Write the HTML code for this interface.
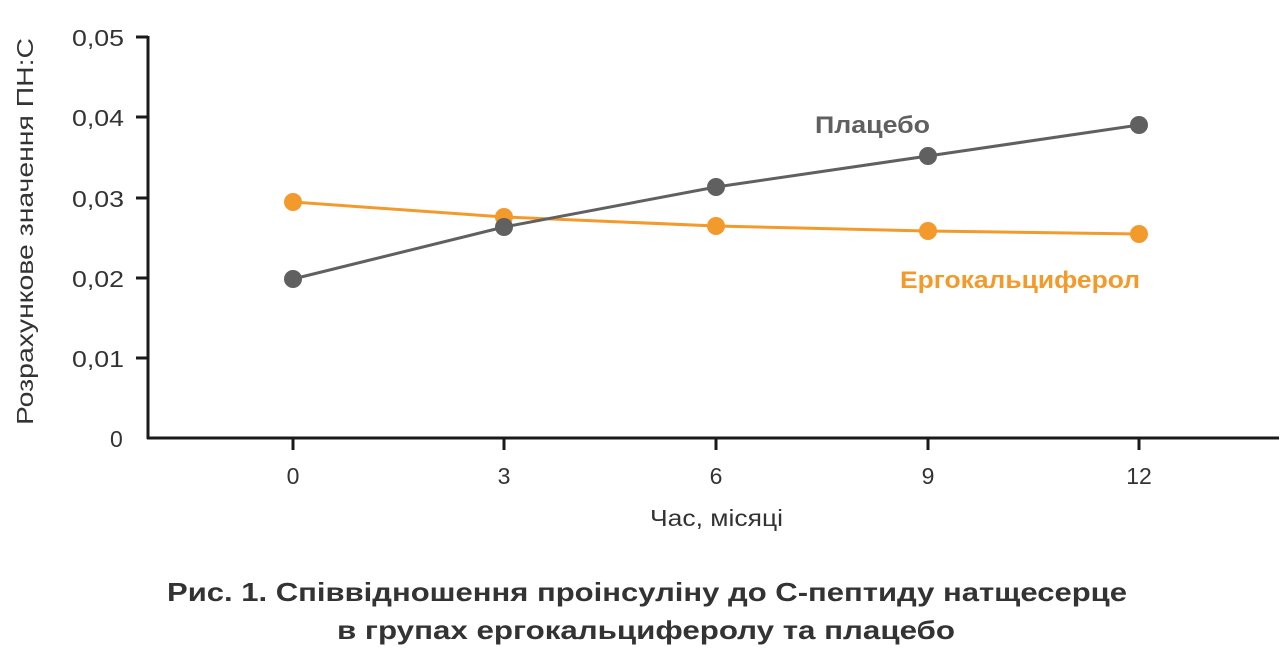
<!DOCTYPE html>
<html><head><meta charset="utf-8"><style>
html,body{margin:0;padding:0;background:#fff;}
svg{display:block;}
text{font-family:"Liberation Sans","DejaVu Sans",sans-serif;}
</style></head><body>
<svg width="1286" height="655" viewBox="0 0 1286 655" xmlns="http://www.w3.org/2000/svg">
<g stroke="#1a1a1a" stroke-width="3" fill="none">
<line x1="148" y1="36" x2="148" y2="439"/>
<line x1="147" y1="438" x2="1279" y2="438"/>
<line x1="136" y1="37" x2="148" y2="37"/>
<line x1="136" y1="117" x2="148" y2="117"/>
<line x1="136" y1="198" x2="148" y2="198"/>
<line x1="136" y1="278" x2="148" y2="278"/>
<line x1="136" y1="358" x2="148" y2="358"/>
<line x1="293" y1="438" x2="293" y2="450"/>
<line x1="504" y1="438" x2="504" y2="450"/>
<line x1="716" y1="438" x2="716" y2="450"/>
<line x1="928" y1="438" x2="928" y2="450"/>
<line x1="1139" y1="438" x2="1139" y2="450"/>
</g>
<g font-size="23" fill="#333">
<text x="72" y="46" textLength="52" lengthAdjust="spacingAndGlyphs">0,05</text>
<text x="72" y="126" textLength="52" lengthAdjust="spacingAndGlyphs">0,04</text>
<text x="72" y="207" textLength="52" lengthAdjust="spacingAndGlyphs">0,03</text>
<text x="72" y="287" textLength="52" lengthAdjust="spacingAndGlyphs">0,02</text>
<text x="72" y="367" textLength="52" lengthAdjust="spacingAndGlyphs">0,01</text>
<text x="110" y="447">0</text>
</g>
<g font-size="23" fill="#333" text-anchor="middle">
<text x="293" y="484">0</text>
<text x="504" y="484">3</text>
<text x="716" y="484">6</text>
<text x="928" y="484">9</text>
<text x="1139" y="484">12</text>
</g>
<text x="650" y="526" font-size="23" fill="#333" textLength="133" lengthAdjust="spacingAndGlyphs">Час, місяці</text>
<text transform="translate(33,425) rotate(-90)" font-size="23" fill="#333" textLength="387" lengthAdjust="spacingAndGlyphs">Розрахункове значення ПН:С</text>
<polyline points="293,202 504,217 716,226 928,231 1139,234" fill="none" stroke="#f39a2c" stroke-width="3"/>
<g fill="#f39a2c">
<circle cx="293" cy="202" r="9"/><circle cx="504" cy="217" r="9"/><circle cx="716" cy="226" r="9"/><circle cx="928" cy="231" r="9"/><circle cx="1139" cy="234" r="9"/>
</g>
<polyline points="293,279 504,227 716,187 928,156 1139,125" fill="none" stroke="#606060" stroke-width="3"/>
<g fill="#606060">
<circle cx="293" cy="279" r="9"/><circle cx="504" cy="227" r="9"/><circle cx="716" cy="187" r="9"/><circle cx="928" cy="156" r="9"/><circle cx="1139" cy="125" r="9"/>
</g>
<text x="815" y="133" font-size="24" font-weight="bold" fill="#606060" textLength="115" lengthAdjust="spacingAndGlyphs">Плацебо</text>
<text x="900" y="288" font-size="24" font-weight="bold" fill="#f39a2c" textLength="240" lengthAdjust="spacingAndGlyphs">Ергокальциферол</text>
<g font-size="26" font-weight="bold" fill="#333">
<text x="167" y="601" textLength="960" lengthAdjust="spacingAndGlyphs">Рис. 1. Співвідношення проінсуліну до С-пептиду натщесерце</text>
<text x="337" y="639" textLength="618" lengthAdjust="spacingAndGlyphs">в групах ергокальциферолу та плацебо</text>
</g>
</svg>
</body></html>
